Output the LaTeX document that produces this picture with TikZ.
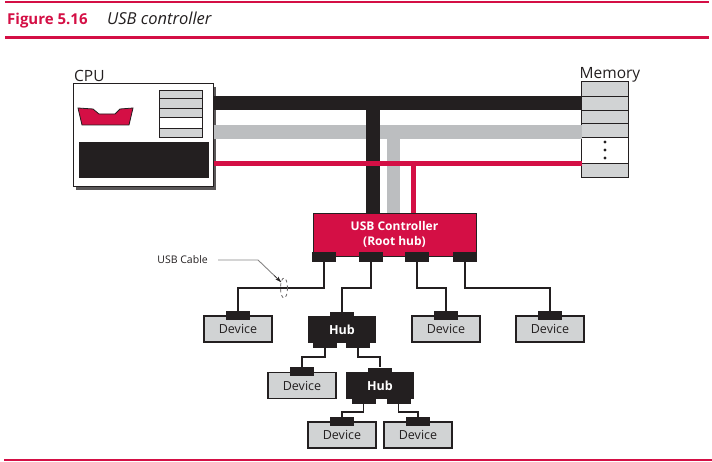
\documentclass[tikz,border=0pt]{standalone}
\usepackage{fontspec}
\setmainfont{Open Sans}
\usetikzlibrary{arrows.meta,calc}
\definecolor{usbred}{HTML}{D40F45}
\definecolor{busgray}{HTML}{BCBEC0}
\definecolor{cellgray}{HTML}{D1D3D4}
\definecolor{ink}{HTML}{231F20}
\begin{document}
\begin{tikzpicture}[x=1pt,y=-1pt,
    device/.style={draw=ink,line width=1.4pt,fill=cellgray,minimum width=68pt,minimum height=26pt,inner sep=0pt,text=ink,font=\fontsize{12.5}{12.5}\selectfont},
    devport/.style={fill=ink,minimum width=24pt,minimum height=9pt,inner sep=0pt},
    hubbox/.style={fill=ink,minimum width=68pt,minimum height=27pt,inner sep=0pt,text=white,font=\bfseries\fontsize{12.5}{12.5}\selectfont},
    hubport/.style={fill=ink,minimum width=24pt,minimum height=6pt,inner sep=0pt},
    cable/.style={draw=ink,line width=1.3pt},
    unitname/.style={text=ink,inner sep=0pt,font=\fontsize{15.5}{15.5}\selectfont}]
    \useasboundingbox (0,0) rectangle (712,462);
    % Title
    \draw[usbred,line width=1.2pt] (5,2) -- (709,2);
    \node[anchor=base west,inner sep=0pt,text=usbred,font=\bfseries\fontsize{15}{15}\selectfont] (fig) at (7,25) {Figure 5.16};
    \node[anchor=base west,inner sep=0pt,text=ink,font=\itshape\fontsize{16.5}{16.5}\selectfont] (cap) at (107,25) {USB controller};
    \draw[usbred,line width=3pt] (5,37.5) -- (709,37.5);
    \draw[usbred,line width=1.2pt] (4,460) -- (712,460);
    % CPU
    \fill[ink!75] (76,87) rectangle (216,190);
    \node[draw=ink,line width=1pt,fill=white,minimum width=140pt,minimum height=103pt,inner sep=0pt] (cpu) at (143,135.5) {};
    \node[unitname,anchor=base west] (cpulbl) at (74,82) {CPU};
    \draw[ink,line width=0.8pt,fill=usbred] (78,108) -- (93,109) -- (99,114) -- (115,114) -- (120,109) -- (133,108) -- (129,125) -- (82,125) -- cycle;
    \foreach \ya/\yb in {90/98,98/108,108/117,128/137}
        \draw[ink,line width=0.8pt,fill=cellgray] (159,\ya) rectangle (202,\yb);
    \draw[ink,line width=0.8pt,fill=white] (159,117) rectangle (202,128);
    \fill[ink] (79,142) rectangle (209,178);
    % Memory
    \node[fill=cellgray,minimum width=46pt,minimum height=95pt,inner sep=0pt] (mem) at (605,129.5) {};
    \node[unitname,anchor=base] (memlbl) at (610,79) {Memory};
    \fill[white] (582,137) rectangle (628,163);
    \foreach \y in {96,110,123.5,137,163}
        \draw[ink,line width=0.8pt] (582,\y) -- (628,\y);
    \foreach \y in {142,150,158}
        \fill[ink] (605,\y) circle (1.6);
    \draw[ink,line width=1pt] (mem.north west) rectangle (mem.south east);
    % USB controller
    \node[draw=ink,line width=0.8pt,fill=usbred,minimum width=163pt,minimum height=43pt,inner sep=0pt,text=white,align=center,font=\bfseries\fontsize{12}{15}\selectfont] (ctrl) at (394.5,234.5) {USB Controller\\(Root hub)};
    % Buses
    \draw[ink,line width=14pt] (cpu.east |- 0,103) -- (mem.west |- 0,103);
    \draw[busgray,line width=14pt] (cpu.east |- 0,132) -- (mem.west |- 0,132);
    \draw[ink,line width=14pt] (373,96) -- (ctrl.north -| 373,0);
    \draw[busgray,line width=13pt] (393.5,132) -- (ctrl.north -| 393.5,0);
    \draw[usbred,line width=5pt] (cpu.east |- 0,163.5) -- (mem.west |- 0,163.5);
    \draw[usbred,line width=5pt] (413,161) -- (ctrl.north -| 413,0);
    % Root hub ports
    \foreach \x [count=\i] in {324,371,417,465}
        \node[fill=ink,minimum width=24pt,minimum height=10pt,inner sep=0pt] (cp\i) at (\x,257) {};
    % Hubs
    \node[hubbox] (hub1) at (342,329.5) {Hub};
    \node[hubport] (h1t) at (342,315) {};
    \node[hubport] (h1l) at (325,344.5) {};
    \node[hubport] (h1r) at (358,344.5) {};
    \node[hubbox] (hub2) at (380,385.5) {Hub};
    \node[hubport] (h2t) at (380,370.5) {};
    \node[hubport] (h2l) at (363.5,400.5) {};
    \node[hubport] (h2r) at (398.5,400.5) {};
    % Devices
    \foreach \n/\x/\y in {1/238/329,2/302/385.5,3/342/435,4/418/435,5/446/329,6/550/329}{
        \node[device] (dev\n) at (\x,\y) {Device};
        \node[devport] (dp\n) at (dev\n.north) {};
    }
    % Cables
    \draw[cable] (cp1.south) -- (cp1.south |- 0,288) -| (dp1.north);
    \draw[cable] (cp2.south) -- (cp2.south |- 0,288) -| (h1t.north);
    \draw[cable] (cp3.south) -- (cp3.south |- 0,288) -| (dp5.north);
    \draw[cable] (cp4.south) -- (cp4.south |- 0,288) -| (dp6.north);
    \draw[cable] (h1l.south) -- (h1l.south |- 0,357) -| (dp2.north);
    \draw[cable] (h1r.south) -- (h1r.south |- 0,357) -| (h2t.north);
    \draw[cable] (h2l.south) -- (h2l.south |- 0,412) -| (dp3.north);
    \draw[cable] (h2r.south) -- (h2r.south |- 0,412) -| (dp4.north);
    % USB cable label
    \node[anchor=east,inner sep=0pt,text=ink,font=\fontsize{10.5}{10.5}\selectfont] (cablelbl) at (208,260) {USB Cable};
    \coordinate (bend) at (258,260);
    \coordinate (tip) at (281,282);
    \draw[ink!55,line width=0.9pt] (cablelbl.east) ++(10,0) -- (bend) -- (tip);
    \draw[ink,-{Stealth[length=6pt,width=4pt]}] ($(bend)!0.7!(tip)$) -- (tip);
    \draw[ink!70,line width=0.8pt,dash pattern=on 3pt off 3pt] (284,288) ellipse (3.5 and 10);
\end{tikzpicture}
\end{document}
